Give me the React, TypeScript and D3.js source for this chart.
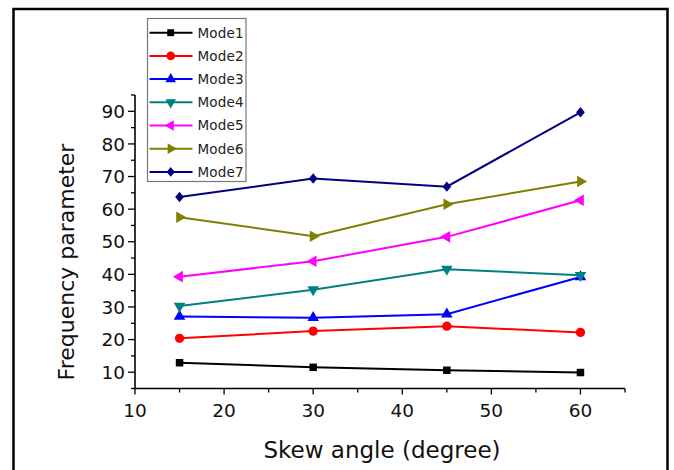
import React, { useRef, useEffect } from "react";
import * as d3 from "d3";

const ANGLES = [15, 30, 45, 60];
const MODE1 = [12.9, 11.5, 10.6, 9.9];
const MODE2 = [20.4, 22.6, 24.1, 22.2];
const MODE3 = [27.1, 26.7, 27.8, 39.2];
const MODE4 = [30.3, 35.3, 41.6, 39.7];
const MODE5 = [39.3, 44.0, 51.5, 62.7];
const MODE6 = [57.5, 51.7, 61.5, 68.5];
const MODE7 = [63.7, 69.4, 66.9, 89.7];

const NAMES = ["Mode1", "Mode2", "Mode3", "Mode4", "Mode5", "Mode6", "Mode7"];
const COLORS = ["#000000", "#ff0000", "#0000ff", "#008080", "#ff00ff", "#808000", "#000080"];
const X_TICKS = [10, 20, 30, 40, 50, 60];
const Y_TICKS = [10, 20, 30, 40, 50, 60, 70, 80, 90];

const FONT = "DejaVu Sans, sans-serif";

// marker: symbol type, rotation, area, y-stretch
const MARKERS: [d3.SymbolType, number, number, number][] = [
    [d3.symbolSquare, 0, 56, 1],
    [d3.symbolCircle, 0, 68, 1],
    [d3.symbolTriangle, 0, 58, 1],
    [d3.symbolTriangle, 180, 58, 1],
    [d3.symbolTriangle, -90, 58, 1],
    [d3.symbolTriangle, 90, 58, 1],
    [d3.symbolDiamond2, 0, 48, 1.2],
];

export default function App() {
    const svgRef = useRef<SVGSVGElement>(null);

    useEffect(() => {
        const width = 674, height = 470;
        const series = [MODE1, MODE2, MODE3, MODE4, MODE5, MODE6, MODE7];

        const x = d3.scaleLinear().domain([10, 65]).range([135, 625]);
        const y = d3.scaleLinear().domain([5, 95]).range([388.5, 95]);

        const svg = d3.select(svgRef.current);
        svg.selectAll("*").remove();

        // frame
        svg.append("rect")
            .attr("x", 13.5).attr("y", 9)
            .attr("width", 654).attr("height", height + 20)
            .attr("fill", "none")
            .attr("stroke", "#000")
            .attr("stroke-width", 2.5);

        // x axis
        const xAxis = svg.append("g").attr("transform", `translate(0,${y(5)})`);
        xAxis.append("line")
            .attr("x1", x(10)).attr("x2", x(65))
            .attr("stroke", "#000").attr("stroke-width", 1.6);
        xAxis.selectAll("line.minor")
            .data(d3.range(10, 66, 5))
            .join("line")
            .attr("class", "minor")
            .attr("x1", d => x(d)).attr("x2", d => x(d))
            .attr("y1", 0).attr("y2", d => d % 10 === 0 ? 6 : 4)
            .attr("stroke", "#000").attr("stroke-width", 1.3);
        xAxis.selectAll("text")
            .data(X_TICKS)
            .join("text")
            .attr("x", d => x(d))
            .attr("y", 28)
            .attr("text-anchor", "middle")
            .style("font-family", FONT)
            .style("font-size", "18.5px")
            .style("fill", "#111")
            .text(d => d);

        // y axis
        const yAxis = svg.append("g").attr("transform", `translate(${x(10)},0)`);
        yAxis.append("line")
            .attr("y1", y(5)).attr("y2", y(95))
            .attr("stroke", "#000").attr("stroke-width", 1.6);
        yAxis.selectAll("line.minor")
            .data(d3.range(5, 96, 5))
            .join("line")
            .attr("class", "minor")
            .attr("y1", d => y(d)).attr("y2", d => y(d))
            .attr("x1", 0).attr("x2", d => d % 10 === 0 ? -7 : -4)
            .attr("stroke", "#000").attr("stroke-width", 1.3);
        yAxis.selectAll("text")
            .data(Y_TICKS)
            .join("text")
            .attr("x", -10)
            .attr("y", d => y(d))
            .attr("dy", "0.36em")
            .attr("text-anchor", "end")
            .style("font-family", FONT)
            .style("font-size", "18.5px")
            .style("fill", "#111")
            .text(d => d);

        // axis titles
        svg.append("text")
            .attr("x", 382).attr("y", 458)
            .attr("text-anchor", "middle")
            .style("font-family", FONT)
            .style("font-size", "23px")
            .style("fill", "#111")
            .text("Skew angle (degree)");
        svg.append("text")
            .attr("transform", "translate(74,262) rotate(-90)")
            .attr("text-anchor", "middle")
            .style("font-family", FONT)
            .style("font-size", "22px")
            .style("fill", "#111")
            .text("Frequency parameter");

        // series
        const line = d3.line<number>()
            .x((d, i) => x(ANGLES[i]))
            .y(d => y(d));
        series.forEach((vals, si) => {
            const g = svg.append("g");
            g.append("path")
                .attr("d", line(vals))
                .attr("fill", "none")
                .attr("stroke", COLORS[si])
                .attr("stroke-width", 2);
            const [type, rot, size, sy] = MARKERS[si];
            g.selectAll("path.mark")
                .data(vals)
                .join("path")
                .attr("class", "mark")
                .attr("d", d3.symbol(type, size)())
                .attr("transform", (d, i) => `translate(${x(ANGLES[i])},${y(d)}) rotate(${rot}) scale(1,${sy})`)
                .attr("fill", COLORS[si]);
        });

        // legend
        const legend = svg.append("g");
        legend.append("rect")
            .attr("x", 147.5).attr("y", 18.5)
            .attr("width", 98.5).attr("height", 163)
            .attr("fill", "#fff")
            .attr("stroke", "#777")
            .attr("stroke-width", 1.2);
        NAMES.forEach((name, i) => {
            const cy = 32.7 + i * 23.2;
            legend.append("line")
                .attr("x1", 149.5).attr("x2", 192.5)
                .attr("y1", cy).attr("y2", cy)
                .attr("stroke", COLORS[i])
                .attr("stroke-width", 2);
            const [type, rot, size, sy] = MARKERS[i];
            legend.append("path")
                .attr("d", d3.symbol(type, size * 0.85)())
                .attr("transform", `translate(170.7,${cy}) rotate(${rot}) scale(1,${sy})`)
                .attr("fill", COLORS[i]);
            legend.append("text")
                .attr("x", 197.5).attr("y", cy)
                .attr("dy", "0.36em")
                .style("font-family", FONT)
                .style("font-size", "13.5px")
                .style("letter-spacing", "0.2px")
                .style("fill", "#222")
                .text(name);
        });
    }, []);

    return (
        <svg
            ref={svgRef}
            width={674}
            height={470}
            style={{ position: "absolute", left: 0, top: 0, background: "#fff", display: "block" }}
        />
    );
}
